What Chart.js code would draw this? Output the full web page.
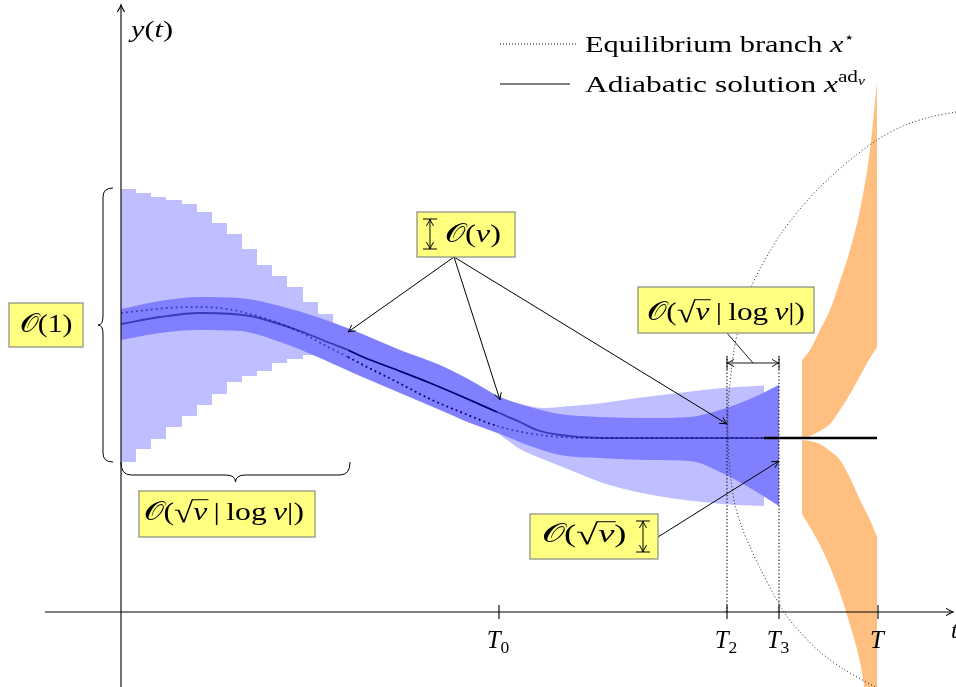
<!DOCTYPE html>
<html>
<head>
<meta charset="utf-8">
<script src="https://cdn.jsdelivr.net/npm/chart.js@4.4.0/dist/chart.umd.min.js"></script>
<style>
  html, body { margin: 0; padding: 0; background: #fff; }
  #wrap { width: 956px; height: 687px; position: relative; }
</style>
</head>
<body>
<div id="wrap"><canvas id="sketch"></canvas></div>
<script>
// t is measured from the y-axis, y(t) from the t-axis (both in drawing units)
const tickValues = [378, 606, 658, 757];
const tickLabels = ['T_0', 'T_2', 'T_3', 'T'];

// initial oscillations (stepped envelope)
const stepT = [0, 15, 30, 45, 61, 76, 91, 106, 121, 136, 151, 166, 182, 197, 212];
const stepHigh = [423, 419, 415, 412, 408, 400, 389, 378, 363, 347, 336, 325, 310, 298, 298];
const stepLow = [150, 163, 173, 185, 196, 207, 218, 230, 236, 241, 249, 253, 257, 260, 260];

// O(nu) tube around the adiabatic solution
const bandT = [0, 39, 79, 119, 159, 199, 239, 279, 319, 349, 379, 409, 439, 479, 529, 569, 599, 629, 658];
const bandHigh = [303, 311, 315, 314, 306, 294, 279, 262, 247, 232, 215, 205, 198, 195, 194, 195, 202, 213, 227];
const bandLow = [272, 279, 282, 281, 270, 254, 236, 219, 202, 189, 178, 166, 157, 154, 152, 151, 140, 124, 106];

// O(sqrt nu) fan after T0
const fanT = [378, 399, 424, 449, 482, 516, 549, 582, 616, 643];
const fanHigh = [215, 208, 204, 206, 209, 214, 218, 222, 225, 226.5];
const fanLow = [178, 163, 152, 142, 129, 120, 114, 110, 107, 106];

// adiabatic solution and equilibrium branch
const adiabT = [0, 39, 79, 129, 179, 209, 227, 242, 276, 309, 342, 376, 399, 416, 439, 479, 643, 756];
const adiabY = [288, 295, 299, 296, 281, 269, 262, 255, 242, 229, 215, 200, 190, 182, 177, 174, 174, 174];
const equilT = [0, 46, 79, 112, 146, 179, 209, 227, 242, 276, 309, 342, 376, 409, 439, 479, 643, 756];
const equilY = [299, 304, 305, 302, 293, 280, 264, 255, 247, 230, 213, 199, 186, 178.5, 175, 174, 174, 174];

// blow-up region before T
const blowT = [681, 689, 699, 709, 719, 729, 739, 749, 756];
const blowTopOuter = [252, 262, 282, 302, 331, 362, 402, 462, 530];
const blowTopInner = [174, 176, 181, 188, 202, 218, 236, 254, 265];
const blowBotInner = [172, 171, 168, 161, 152, 134, 112, 92, 75];
const blowBotOuter = [98, 85, 67, 45, 19, -13, -50, -111, -148];

// dotted arc
const arcT = [835, 809, 782, 756, 729, 699, 679, 659, 649, 639, 629, 619, 613, 609, 607, 607,
              608, 610, 614, 620, 629, 640, 653, 665, 679, 699, 724, 756];
const arcY = [500, 495, 486, 472, 452, 425, 403, 377, 361, 343, 322, 289, 262, 229, 202, 172,
              152, 132, 107, 87, 65, 42, 17, -3, -20, -40, -58, -76];

const guideTop = 256;

const zip = (xs, ys) => xs.map((x, i) => ({ x: x, y: ys[i] }));
const clear = 'rgba(0,0,0,0)';

function area(xs, hi, lo, color, order, stepped) {
    const base = { borderColor: clear, borderWidth: 0, pointRadius: 0, order: order,
                   stepped: stepped || false, cubicInterpolationMode: 'monotone' };
    return [
        Object.assign({ data: zip(xs, hi), fill: '+1', backgroundColor: color }, base),
        Object.assign({ data: zip(xs, lo), fill: false }, base)
    ];
}

function curveColor(c) {
    const x0 = c.p0.parsed.x;
    if (x0 >= 643) return '#000';
    if (x0 >= 227 && x0 < 376) return '#000070';
    return 'rgba(0,0,128,0.55)';
}

const datasets = [].concat(
    area(stepT, stepHigh, stepLow, '#bfbfff', 10, 'before'),
    area(fanT, fanHigh, fanLow, '#bfbfff', 9),
    area(bandT, bandHigh, bandLow, '#8080ff', 8),
    area(blowT, blowTopOuter, blowTopInner, '#ffbf80', 8),
    area(blowT, blowBotInner, blowBotOuter, '#ffbf80', 8),
    [
        { data: zip(adiabT, adiabY), borderColor: '#000070', borderWidth: 1.8, pointRadius: 0, order: 3,
          cubicInterpolationMode: 'monotone',
          segment: { borderColor: curveColor, borderWidth: c => c.p0.parsed.x >= 643 ? 2.4 : 1.8 } },
        { data: zip(equilT, equilY), borderColor: '#000070', borderWidth: 1.8, borderDash: [1.8, 3.2],
          pointRadius: 0, order: 2, cubicInterpolationMode: 'monotone',
          segment: { borderColor: curveColor } },
        { data: zip(arcT, arcY), borderColor: '#222', borderWidth: 1, borderDash: [1, 2.4],
          pointRadius: 0, order: 1, tension: 0.3, capBezierPoints: false },
        { data: [{ x: tickValues[1], y: 0 }, { x: tickValues[1], y: guideTop }], borderColor: '#000',
          borderWidth: 1, borderDash: [1.4, 2], pointRadius: 0, order: 1 },
        { data: [{ x: tickValues[2], y: 0 }, { x: tickValues[2], y: guideTop }], borderColor: '#000',
          borderWidth: 1, borderDash: [1.4, 2], pointRadius: 0, order: 1 }
    ]
);

// ---------- drawing helpers ----------
const SERIF = '"Liberation Serif", "DejaVu Serif", serif';

function tokFont(t, size) {
    return (t.i ? 'italic ' : '') + (size * (t.s || 1)).toFixed(2) + 'px ' + (t.ff || SERIF);
}

function drawRich(ctx, toks, size, x, y, align, fitW) {
    let w = 0;
    toks.forEach(t => {
        ctx.font = tokFont(t, size);
        t._w = ctx.measureText(t.t).width;
        w += t._w + (t.gap || 0) * size;
    });
    const k = fitW ? fitW / w : 1;
    ctx.save();
    ctx.translate(x, y);
    ctx.scale(k, 1);
    let cx = align === 'center' ? -w / 2 : 0;
    ctx.fillStyle = '#000';
    ctx.textBaseline = 'alphabetic';
    toks.forEach(t => {
        ctx.font = tokFont(t, size);
        const dy = (t.dy || 0) * size;
        ctx.fillText(t.t, cx, dy);
        if (t.over) {
            ctx.beginPath();
            ctx.lineWidth = 1;
            ctx.strokeStyle = '#000';
            ctx.moveTo(cx - 1, dy - t.over * size);
            ctx.lineTo(cx + t._w + 1, dy - t.over * size);
            ctx.stroke();
        }
        cx += t._w + (t.gap || 0) * size;
    });
    ctx.restore();
}

function seg(ctx, x0, y0, x1, y1) {
    ctx.beginPath();
    ctx.moveTo(x0, y0);
    ctx.lineTo(x1, y1);
    ctx.stroke();
}

function head(ctx, x, y, ang) {
    const L = 7, W = 3.6;
    const bx = x - L * Math.cos(ang), by = y - L * Math.sin(ang);
    const nx = -Math.sin(ang), ny = Math.cos(ang);
    ctx.beginPath();
    ctx.moveTo(bx + W * nx, by + W * ny);
    ctx.quadraticCurveTo(x - 2 * Math.cos(ang) + 0.6 * nx, y - 2 * Math.sin(ang) + 0.6 * ny, x, y);
    ctx.quadraticCurveTo(x - 2 * Math.cos(ang) - 0.6 * nx, y - 2 * Math.sin(ang) - 0.6 * ny, bx - W * nx, by - W * ny);
    ctx.stroke();
}

function arrow(ctx, x0, y0, x1, y1) {
    seg(ctx, x0, y0, x1, y1);
    head(ctx, x1, y1, Math.atan2(y1 - y0, x1 - x0));
}

function ibar(ctx, x, y0, y1, half) {
    seg(ctx, x, y0, x, y1);
    head(ctx, x, y0, -Math.PI / 2);
    head(ctx, x, y1, Math.PI / 2);
    seg(ctx, x - half, y0, x + half, y0);
    seg(ctx, x - half, y1, x + half, y1);
}

function hbar(ctx, x0, x1, y, half) {
    seg(ctx, x0, y, x1, y);
    head(ctx, x0, y, Math.PI);
    head(ctx, x1, y, 0);
    seg(ctx, x0, y - half, x0, y + half);
    seg(ctx, x1, y - half, x1, y + half);
}

function brace(ctx, x0, y0, x1, y1, h, d, q) {
    const L = Math.hypot(x1 - x0, y1 - y0);
    ctx.save();
    ctx.translate(x0, y0);
    ctx.rotate(Math.atan2(y1 - y0, x1 - x0));
    ctx.beginPath();
    ctx.moveTo(0, 0);
    ctx.quadraticCurveTo(0, h, q, h);
    ctx.lineTo(L / 2 - q, h);
    ctx.quadraticCurveTo(L / 2, h, L / 2, d);
    ctx.quadraticCurveTo(L / 2, h, L / 2 + q, h);
    ctx.lineTo(L - q, h);
    ctx.quadraticCurveTo(L, h, L, 0);
    ctx.stroke();
    ctx.restore();
}

function box(ctx, x0, y0, x1, y1) {
    ctx.fillStyle = '#ffff80';
    ctx.fillRect(x0, y0, x1 - x0, y1 - y0);
    ctx.strokeStyle = '#8a8a80';
    ctx.lineWidth = 1.2;
    ctx.strokeRect(x0, y0, x1 - x0, y1 - y0);
    ctx.strokeStyle = '#000';
    ctx.lineWidth = 1;
}

const O = { t: '\u{1D4AA}' };
const sqrtNu = [{ t: '\u221A', s: 1.1, dy: 0.06 }, { t: '\u03BD', i: 1, over: 0.78 }];
const sqrtLog = [O, { t: '(' }].concat(sqrtNu, [{ t: '\u2009|\u2009log\u2009' }, { t: '\u03BD', i: 1 }, { t: '|)' }]);

const annot = {
    id: 'annot',
    afterDatasetsDraw(chart) {
        const ctx = chart.ctx;
        const X = v => chart.scales.x.getPixelForValue(v);
        const Y = v => chart.scales.y.getPixelForValue(v);
        ctx.save();
        ctx.strokeStyle = '#000';
        ctx.lineWidth = 1;

        // axes
        ctx.lineWidth = 1.1;
        seg(ctx, X(-76), Y(0), X(832), Y(0));
        head(ctx, X(832), Y(0), 0);
        seg(ctx, X(0), Y(-75), X(0), Y(607));
        head(ctx, X(0), Y(607), -Math.PI / 2);
        tickValues.forEach((v, i) => {
            seg(ctx, X(v), Y(0) - 7, X(v), Y(0) + 7);
            const parts = tickLabels[i].split('_');
            const toks = [{ t: parts[0], i: 1 }];
            if (parts[1]) toks.push({ t: parts[1], s: 0.7, dy: 0.18 });
            drawRich(ctx, toks, 25, X(v) - 1, Y(-36), 'center');
        });
        drawRich(ctx, [{ t: 't', i: 1 }], 24, X(830), Y(-26), 'left');
        drawRich(ctx, [{ t: 'y', i: 1 }, { t: '(' }, { t: 't', i: 1 }, { t: ')' }], 23, X(10), Y(575), 'left', 42);

        // legend
        ctx.lineWidth = 1;
        ctx.setLineDash([1, 2]);
        seg(ctx, X(379), Y(568), X(455), Y(568));
        ctx.setLineDash([]);
        seg(ctx, X(379), Y(528), X(449), Y(528));
        drawRich(ctx, [{ t: 'Equilibrium branch ' }, { t: 'x', i: 1 }, { t: '\u22C6', s: 0.6, dy: -0.42, ff: '"DejaVu Sans", sans-serif' }],
                 24, X(464), Y(560), 'left', 270);
        drawRich(ctx, [{ t: 'Adiabatic solution ' }, { t: 'x', i: 1 }, { t: 'ad', s: 0.68, dy: -0.42 }, { t: '\u03BD', i: 1, s: 0.5, dy: -0.3 }],
                 24, X(464), Y(520), 'left', 280);

        // braces
        ctx.lineWidth = 1;
        brace(ctx, X(-8), Y(424), X(-8), Y(150), 10, 15, 9);
        brace(ctx, X(0), Y(150), X(229), Y(150), 13, 20, 10);

        // width bracket between T2 and T3
        ctx.lineWidth = 0.9;
        hbar(ctx, X(606), X(658), Y(249), 6.5);
        seg(ctx, X(606), Y(279), X(632), Y(249));

        // arrows
        ctx.lineWidth = 1;
        arrow(ctx, X(333), Y(355), X(227), Y(280));
        arrow(ctx, X(333), Y(355), X(379), Y(212));
        arrow(ctx, X(333), Y(355), X(606), Y(188));
        arrow(ctx, X(537), Y(75), X(658), Y(151));

        // boxes
        box(ctx, X(-112), Y(309), X(-38), Y(265));
        drawRich(ctx, [O, { t: '(1)' }], 26, X(-75), Y(280), 'center', 53);

        box(ctx, X(18), Y(121), X(194), Y(75));
        drawRich(ctx, sqrtLog, 26, X(103), Y(92), 'center', 160);

        box(ctx, X(517), Y(325), X(693), Y(279));
        drawRich(ctx, sqrtLog, 26, X(605), Y(292), 'center', 158);

        box(ctx, X(296), Y(400), X(394), Y(355));
        ibar(ctx, X(309), Y(393), Y(363), 7);
        drawRich(ctx, [O, { t: '(' }, { t: '\u03BD', i: 1 }, { t: ')' }], 26, X(352), Y(370), 'center', 56);

        box(ctx, X(409), Y(98), X(537), Y(53));
        ibar(ctx, X(522), Y(91), Y(60), 7);
        drawRich(ctx, [O, { t: '(' }].concat(sqrtNu, [{ t: ')' }]), 26, X(463), Y(70), 'center', 85);

        ctx.restore();
    }
};

new Chart(document.getElementById('sketch').getContext('2d'), {
    type: 'line',
    data: { datasets: datasets },
    options: {
        responsive: true,
        maintainAspectRatio: false,
        animation: false,
        layout: { padding: 0 },
        elements: { point: { radius: 0 } },
        scales: {
            x: { type: 'linear', min: -121, max: 835, display: false },
            y: { type: 'linear', min: -75, max: 612, display: false }
        },
        plugins: {
            legend: { display: false },
            tooltip: { enabled: false }
        }
    },
    plugins: [annot]
});
</script>
</body>
</html>
